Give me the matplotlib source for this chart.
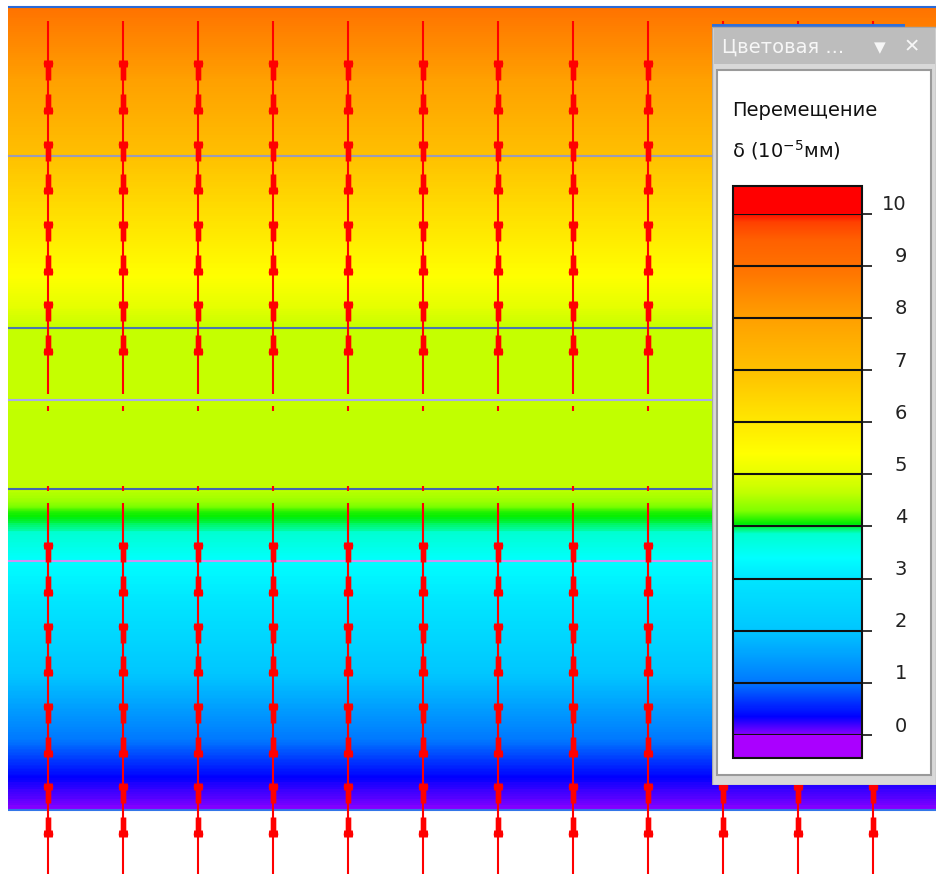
import numpy as np
import matplotlib
matplotlib.use("Agg")
import matplotlib.pyplot as plt
from matplotlib.colors import LinearSegmentedColormap, Normalize
from matplotlib.cm import ScalarMappable
from matplotlib.patches import Rectangle
from matplotlib.path import Path
from matplotlib.transforms import ScaledTranslation, blended_transform_factory

plt.rcParams['font.family'] = ['DejaVu Sans']
plt.rcParams['mathtext.default'] = 'regular'

# node columns (m) and arrow nodes along each column (depth, m)
col_x = [0, 1, 2, 3, 4, 5, 6, 7, 8, 9, 10, 11]
upper_span = (0.18, 4.82)
lower_span = (6.18, 10.8)
upper_nodes = [1, 2, 3, 4]
lower_nodes = [7, 8, 9, 10]
short_marks = [5.0, 6.0]

# layer boundaries (depth, m)
layer_depth = [0.0, 1.85, 4.0, 4.9, 6.0, 6.9, 10.0]
layer_color = ['#2a6ad8', '#9c9cb4', '#4a78b0', '#aaaaea', '#4466b0', '#cc90f4', '#3376e8']

# displacement profile, 10^-5 mm
profile_depth = [0.0, 1.85, 4.0, 6.0, 6.15, 6.3, 6.5, 6.9, 7.4, 8.4, 9.13, 9.6, 10.0]
profile_value = [8.95, 7.0, 4.7, 4.65, 4.45, 4.1, 3.9, 3.4, 3.0, 1.9, 1.0, 0.35, 0.0]

cbar_ticks = [0, 1, 2, 3, 4, 5, 6, 7, 8, 9, 10]

# colour scale of the result window
scale_pos = [0.0, 0.35, 1.0, 2.0, 3.0, 3.4, 3.85, 4.05, 4.3, 4.65, 5.0, 5.4, 6.0, 7.0, 8.0, 9.0, 9.5, 9.85, 10.0]
scale_col = ['#8800ff', '#0000ff', '#0078ff', '#00c6ff', '#00e6ff', '#00ffff', '#00ffd0', '#00ee00',
             '#80ff00', '#c0ff00', '#e6ff00', '#ffff00', '#ffe800', '#ffc000', '#ffa000', '#ff7000',
             '#ff6000', '#ff4000', '#ff1000']
cmap = LinearSegmentedColormap.from_list('disp', list(zip([p / 10 for p in scale_pos], scale_col)), N=512)
cmap.set_over('#ff0000')
cmap.set_under('#aa00ff')
norm = Normalize(0, 10)

fig = plt.figure(figsize=(9.36, 8.77), dpi=100)
fig.patch.set_facecolor('white')

ax = fig.add_axes([0, 0, 1, 1])
ax.set_xlim(-0.64, 11.84)
ax.set_ylim(10.834, -0.087)
ax.axis('off')

# field
field_x = [-0.533, 12.5]
Z = np.column_stack([profile_value, profile_value])
ax.contourf(field_x, profile_depth, Z, levels=np.linspace(0, 10, 401), cmap=cmap, norm=norm, zorder=1)

for d, c in zip(layer_depth, layer_color):
    ax.hlines(d, field_x[0], field_x[1], color=c, lw=1.5, zorder=2)

# vector lines
red = '#ff0000'
for x in col_x:
    ax.vlines(x, *upper_span, color=red, lw=1.5, zorder=3)
    ax.vlines(x, *lower_span, color=red, lw=1.5, zorder=3)
    for m in short_marks:
        ax.vlines(x, m - 0.03, m + 0.03, color=red, lw=1.5, zorder=3)

head_up = Path([(-2.8, -10), (2.8, -10), (2.8, 3), (4.3, 3), (4.8, 7), (4.3, 10), (-4.3, 10),
                (-4.8, 7), (-4.3, 3), (-2.8, 3), (-2.8, -10)], closed=True)
head_dn = Path([(x, -y) for x, y in head_up.vertices], closed=True)

gap = 0.21
nodes = upper_nodes + lower_nodes
for x in col_x:
    ax.plot([x] * len(nodes), [n - gap for n in nodes], ls='none', marker=head_up,
            ms=14.4, mfc=red, mec='none', zorder=4)
    ax.plot([x] * len(nodes), [n + gap for n in nodes], ls='none', marker=head_dn,
            ms=14.4, mfc=red, mec='none', zorder=4)

# colour scale window
W, H = 224, 761
pan = fig.add_axes([712 / 936, 1 - 785 / 877, W / 936, H / 877])
pan.set_zorder(5)
pan.set_xlim(0, W)
pan.set_ylim(H, 0)
pan.axis('off')
pan.add_patch(Rectangle((0, 0), 193, 2.5, fc='#3070d8', ec='none'))
pan.add_patch(Rectangle((0, 2.5), W, H - 2.5, fc='#d8d8d8', ec='#a8a8a8', lw=1))
pan.add_patch(Rectangle((1.5, 4), W - 3, 36, fc='#bdbdbd', ec='none'))
pan.add_patch(Rectangle((5, 46), 214, 705, fc='white', ec='#9a9a9a', lw=1.5))
pan.text(10, 23, 'Цветовая ...', color='#f6f6f6', fontsize=14, ha='left', va='center')
pan.text(168, 24, '▼', color='#f6f6f6', fontsize=11, ha='center', va='center')
pan.text(200, 23, '✕', color='#f6f6f6', fontsize=14, ha='center', va='center')
pan.text(20, 87, 'Перемещение', color='#111111', fontsize=14, ha='left', va='center')
pan.text(20, 126, r'δ (10$^{-5}$мм)', color='#111111', fontsize=14, ha='left', va='center')

# bar box spans the under/over blocks too
cax = fig.add_axes([733 / 936, 1 - 758 / 877, 129 / 936, 572 / 877])
cax.set_zorder(6)
cb = fig.colorbar(ScalarMappable(norm=norm, cmap=cmap), cax=cax, extend='both',
                  extendrect=True, extendfrac=[23 / 521.3, 27.7 / 521.3], ticks=cbar_ticks)
cb.outline.set_linewidth(1.5)
cb.outline.set_edgecolor('#111111')
cax.tick_params(length=7.2, width=1.2, color='#111111', labelright=False)
for v in cbar_ticks:
    cax.axhline(v, color='#111111', lw=1.5)

lab_tr = blended_transform_factory(cax.transAxes, cax.transData) + \
    ScaledTranslation(45 / 100, 9 / 100, fig.dpi_scale_trans)
for v in cbar_ticks:
    cax.text(1, v, str(v), transform=lab_tr, fontsize=14, color='#222222',
             ha='right', va='center', clip_on=False)

fig.savefig('out.png', dpi=100)
